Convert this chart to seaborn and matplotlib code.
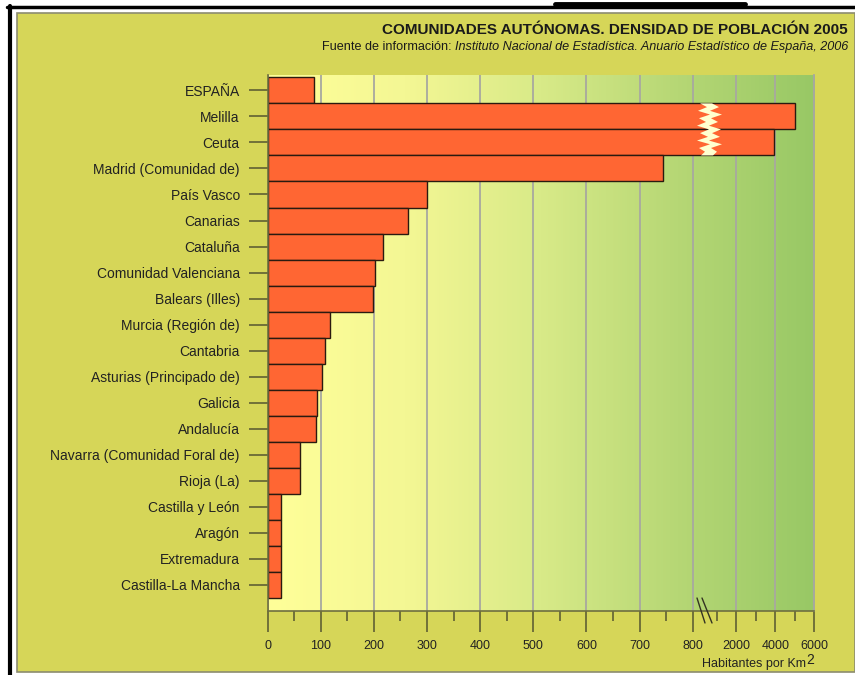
import numpy as np
import matplotlib
matplotlib.use("Agg")
import matplotlib.pyplot as plt
import seaborn as sns
from matplotlib.patches import Rectangle, Polygon
from matplotlib.lines import Line2D
from matplotlib.transforms import blended_transform_factory

# data (habitantes por km2, 2005)
regions = [
    "ESPAÑA", "Melilla", "Ceuta", "Madrid (Comunidad de)", "País Vasco",
    "Canarias", "Cataluña", "Comunidad Valenciana", "Balears (Illes)",
    "Murcia (Región de)", "Cantabria", "Asturias (Principado de)", "Galicia",
    "Andalucía", "Navarra (Comunidad Foral de)", "Rioja (La)",
    "Castilla y León", "Aragón", "Extremadura", "Castilla-La Mancha",
]
density = [87, 5030, 3960, 744, 300, 264, 217, 202, 198, 118,
           108, 102, 93, 91, 61, 61, 26, 26, 26, 25]

x_ticks = [0, 100, 200, 300, 400, 500, 600, 700, 800, 2000, 4000, 6000]
x_tick_labels = ["0", "100", "200", "300", "400", "500", "600", "700", "800",
                 "2000", "4000", "6000"]
x_minor = [50, 150, 250, 350, 450, 550, 650, 750, 1000, 3000, 5000]

title = "COMUNIDADES AUTÓNOMAS. DENSIDAD DE POBLACIÓN 2005"
source_lead = "Fuente de información: "
source = "Instituto Nacional de Estadística. Anuario Estadístico de España, 2006"

W, H = 855, 675
OLIVE = "#D6D658"
BAR = "#FF6633"


def px(x, y):
    # pixel position -> figure fraction
    return x / W, 1 - y / H


# broken axis: linear up to 800, squeezed break, then a compressed linear part
def fwd(v):
    v = np.asarray(v, dtype=float)
    return np.where(v <= 800, v / 100,
                    np.where(v <= 1000, 8 + (v - 800) * 0.00228,
                             8.456 + (v - 1000) * 0.000365))


def inv(u):
    u = np.asarray(u, dtype=float)
    return np.where(u <= 8, u * 100,
                    np.where(u <= 8.456, 800 + (u - 8) / 0.00228,
                             1000 + (u - 8.456) / 0.000365))


sns.set_theme(style="white")
plt.rcParams["font.family"] = ["Liberation Sans", "DejaVu Sans"]

fig = plt.figure(figsize=(W / 100, H / 100), dpi=100)
fig.patch.set_facecolor("white")

# page frame
fig.add_artist(Rectangle(px(17, 672), (W - 17) / W, (672 - 13) / H,
                         transform=fig.transFigure, facecolor=OLIVE,
                         edgecolor="#8C8C70", linewidth=1.2, zorder=0))
fig.add_artist(Line2D([7 / W, 1], [1 - 6.5 / H] * 2, transform=fig.transFigure,
                      color="black", linewidth=2.5))
fig.add_artist(Line2D([9.5 / W] * 2, [1 - 6 / H, 0], transform=fig.transFigure,
                      color="black", linewidth=3))
fig.add_artist(Line2D([555 / W, 745 / W], [1 - 4 / H] * 2, transform=fig.transFigure,
                      color="black", linewidth=3.5))

x0, x1, y0, y1 = 267.6, 814, 75, 611
rect = [x0 / W, 1 - y1 / H, (x1 - x0) / W, (y1 - y0) / H]

# gradient background behind the plot
bg = fig.add_axes(rect, zorder=0)
grad = np.linspace(0, 1, 256)[None, :]
cmap = matplotlib.colors.LinearSegmentedColormap.from_list(
    "bg", ["#FFFF99", "#F4F794", "#D8EA88", "#B6D775", "#98C865"])
bg.imshow(grad, aspect="auto", cmap=cmap, extent=[0, 1, 0, 1])
bg.set_axis_off()

ax = fig.add_axes(rect, zorder=1)
ax.patch.set_alpha(0)

sns.barplot(x=density, y=regions, orient="h", color=BAR, saturation=1,
            edgecolor="#2A1A10", linewidth=1.0, width=1.0, ax=ax)

ax.set_xscale("function", functions=(fwd, inv))
ax.set_xlim(0, 6000)
ax.set_ylim(20.0, -0.59)

ax.set_xticks(x_ticks)
ax.set_xticklabels(x_tick_labels)
ax.set_xticks(x_minor, minor=True)
ax.tick_params(axis="x", which="major", length=15, width=1.1, color="#555530",
               labelsize=9, pad=6, labelcolor="#222222", bottom=True)
ax.tick_params(axis="x", which="minor", length=7, width=1.1, color="#555530",
               bottom=True)
ax.tick_params(axis="y", length=14, width=1.1, color="#555530", labelsize=10,
               pad=6, labelcolor="#222222", left=True)
ax.set_xlabel("")
ax.set_ylabel("")

ax.set_axisbelow(True)
ax.grid(axis="x", which="major", color="#A8A8A0", linewidth=1.3)
ax.grid(axis="y", visible=False)

for side in ["left", "bottom"]:
    ax.spines[side].set_color("#6E6E40")
    ax.spines[side].set_linewidth(1.2)
ax.spines["right"].set_color("#A8A8A0")
ax.spines["right"].set_linewidth(1.3)
ax.spines["top"].set_visible(False)

# zigzag break through the Melilla and Ceuta bars (a jagged light stripe)
tr = blended_transform_factory(ax.transAxes, ax.transData)
ys = np.linspace(0.5, 2.5, 15)
centre_px = [706, 713, 704, 716, 705, 712, 703, 715, 706, 714, 703, 716, 705, 711, 707]
left_px = [c - 6 for c in centre_px]
right_px = [c + 6 for c in centre_px]
pts = [((p - x0) / (x1 - x0), y) for p, y in zip(left_px, ys)]
pts += [((p - x0) / (x1 - x0), y) for p, y in zip(right_px[::-1], ys[::-1])]
ax.add_patch(Polygon(pts, closed=True, transform=tr, facecolor="#FFFFD0",
                     edgecolor="none", zorder=5))

# break marks on the axis
for xa, xb in [(697, 705), (702, 712)]:
    fig.add_artist(Line2D([xa / W, xb / W], [1 - 598 / H, 1 - 623 / H],
                          transform=fig.transFigure, color="#333322", linewidth=1))

# axis title with superscript
fig.text(806 / W, 1 - 664.5 / H, "Habitantes por Km", ha="right", va="center",
         fontsize=9, color="#222222")
fig.text(806.5 / W, 1 - 660 / H, "2", ha="left", va="center", fontsize=10,
         color="#222222")

# titles, scaled so that they cover the same width as in the reference
t1 = fig.text(848 / W, 1 - 30 / H, title, ha="right", va="center",
              fontsize=11, fontweight="bold", color="#1A1A1A",
              family=["Liberation Sans Narrow", "Liberation Sans"])
t2 = fig.text(848 / W, 1 - 47 / H, source, ha="right", va="center",
              fontsize=9, style="italic", color="#1A1A1A",
              family=["Liberation Sans Narrow", "Liberation Sans"])
t3 = fig.text(0, 0.5, source_lead, ha="right", va="center", fontsize=9,
              color="#1A1A1A", transform=None,
              family=["Liberation Sans Narrow", "Liberation Sans"])
fig.canvas.draw()
r = fig.canvas.get_renderer()
t1.set_fontsize(11 * 465 / t1.get_window_extent(r).width)
full = t2.get_window_extent(r).width + t3.get_window_extent(r).width
scale = 531 / full
t2.set_fontsize(9 * scale)
t3.set_fontsize(9 * scale)
fig.canvas.draw()
bb = t2.get_window_extent(r)
t3.set_transform(fig.transFigure)
t3.set_position((bb.x0 / W, 1 - 47 / H))

fig.savefig("out.png", dpi=100)
